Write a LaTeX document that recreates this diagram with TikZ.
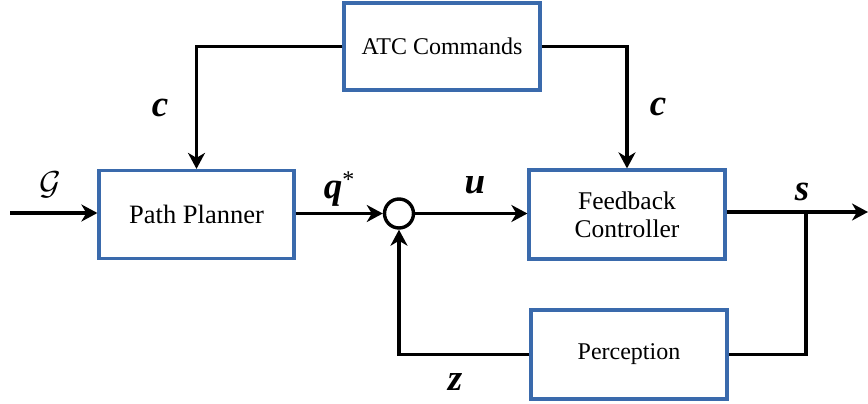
\documentclass[tikz,border=0pt]{standalone}
\usepackage{fontspec}
\setmainfont{Liberation Serif}
\usetikzlibrary{arrows.meta}
\definecolor{boxblue}{RGB}{58,106,172}
\tikzset{
  blk/.style={draw=boxblue, line width=3.2pt, fill=white, inner sep=0pt, align=center,
    font=\fontsize{24}{28}\selectfont},
  wire/.style={line width=3.4pt, black},
  arr/.style={wire, -{Stealth[length=16pt,width=17pt,inset=5pt]}},
  sym/.style={inner sep=0pt, anchor=base, font=\fontsize{37}{40}\selectfont\bfseries\itshape},
}
\begin{document}
\begin{tikzpicture}[x=1pt,y=-1pt]
\useasboundingbox (0,0) rectangle (868,404);
% blocks
\node[blk, minimum width=196pt, minimum height=87pt] (atc) at (442,46.5) {ATC Commands};
\node[blk, minimum width=195pt, minimum height=88pt, font=\fontsize{26.5}{30}\selectfont] (pp) at (196.5,214.5) {Path Planner};
\node[blk, minimum width=196pt, minimum height=89pt, font=\fontsize{25.5}{28}\selectfont] (fc) at (627,214.5) {Feedback\\Controller};
\node[blk, minimum width=196pt, minimum height=89pt] (per) at (629,354.5) {Perception};
\node[circle, draw, line width=3.4pt, minimum size=29pt, inner sep=0pt] (sum) at (399,213.5) {};
% free ends
\coordinate (in) at (10,213);
\coordinate (out) at (868,212);
\coordinate (br) at (806,212);
% connectors
\draw[arr] (atc.west) -| (pp.north);
\draw[arr] (atc.east) -| (fc.north);
\draw[arr] (in) -- (pp.west |- in);
\draw[arr] (pp.east |- sum) -- (sum.west);
\draw[arr] (sum.east) -- (fc.west |- sum);
\draw[arr] (fc.east |- out) -- (out);
\draw[wire] (br) |- (per.east);
\draw[arr] (per.west) -| (sum.south);
% labels
\node[sym] (lc1) at (160,117) {c};
\node[sym] (lc2) at (658,115) {c};
\node[inner sep=0pt, font=\fontsize{20}{24}\selectfont] (lg) at (50,185) {\scalebox{1.6}{$\mathcal{G}$}};
\node[sym] (lq) at (339,198) {q\raisebox{11pt}{\fontsize{24}{24}\selectfont\mdseries\upshape *}};
\node[sym] (lu) at (475,193) {u};
\node[sym] (ls) at (802,200) {s};
\node[sym] (lz) at (455,390) {z};
\end{tikzpicture}
\end{document}
